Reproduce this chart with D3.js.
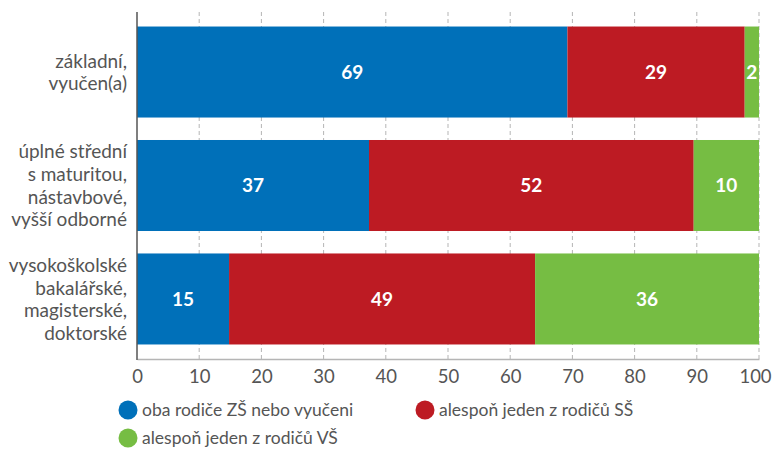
<!DOCTYPE html>
<html><head><meta charset="utf-8">
<script src="https://cdn.jsdelivr.net/npm/d3@7"></script>
<style>
body{margin:0;background:#fff;}
svg text{font-family:Lato,"Open Sans",sans-serif;}
</style></head>
<body><svg id="c" width="772" height="450"></svg>
<script>
const categories = [
  ["základní,", "vyučen(a)"],
  ["úplné střední", "s maturitou,", "nástavbové,", "vyšší odborné"],
  ["vysokoškolské", "bakalářské,", "magisterské,", "doktorské"]
];
const seriesNames = ["oba rodiče ZŠ nebo vyučeni", "alespoň jeden z rodičů SŠ", "alespoň jeden z rodičů VŠ"];
const zsValues = [69.2, 37.3, 14.8];
const ssValues = [28.5, 52.2, 49.2];
const vsValues = [2.3, 10.5, 36.0];
const valueLabels = [[69, 29, 2], [37, 52, 10], [15, 49, 36]];
const xTicks = [0, 10, 20, 30, 40, 50, 60, 70, 80, 90, 100];
const colors = ["#0070b9", "#bd1b23", "#76bd43"];

const svg = d3.select("#c");
const x = d3.scaleLinear().domain([0, 100]).range([137, 759]);
const y = d3.scaleBand().domain(d3.range(categories.length)).range([12, 359]).paddingInner(0.198).paddingOuter(0.128);

// gridlines
svg.append("g").selectAll("line").data(xTicks.slice(1)).join("line")
  .attr("x1", d => x(d)).attr("x2", d => x(d)).attr("y1", 12).attr("y2", 359)
  .attr("stroke", "#b5b5b5").attr("stroke-width", 1).attr("stroke-dasharray", "4,3");

const rows = categories.map((c, i) => ({i, vals: [zsValues[i], ssValues[i], vsValues[i]]}));
const stackData = rows.map(r => { const o = {i: r.i}; seriesNames.forEach((s, k) => o[s] = r.vals[k]); return o; });
const stacked = d3.stack().keys(seriesNames)(stackData);

const g = svg.append("g");
stacked.forEach((layer, k) => {
  g.append("g").selectAll("rect").data(layer).join("rect")
    .attr("x", d => x(d[0])).attr("width", d => x(d[1]) - x(d[0]))
    .attr("y", (d, i) => y(i)).attr("height", y.bandwidth())
    .attr("fill", colors[k]);
  g.append("g").selectAll("text").data(layer).join("text")
    .attr("x", d => (x(d[0]) + x(d[1])) / 2)
    .attr("y", (d, i) => y(i) + y.bandwidth() / 2)
    .attr("dy", "0.36em").attr("text-anchor", "middle")
    .attr("fill", "#fff").attr("font-weight", "bold").attr("font-size", 19)
    .text((d, i) => valueLabels[i][k]);
});

// x axis
const xAxis = svg.append("g").attr("transform", "translate(0,359)")
  .call(d3.axisBottom(x).tickValues(xTicks).tickSize(0).tickPadding(11));
xAxis.select(".domain").attr("stroke", "#b5b5b5").attr("stroke-width", 1.5);
xAxis.selectAll("text").attr("font-size", 18.5).attr("fill", "#555")
  .style("font-family", "Lato, 'Open Sans', sans-serif")
  .attr("dx", d => d === 100 ? -4 : 0);

// left axis line
svg.append("line").attr("x1", 137).attr("x2", 137).attr("y1", 12).attr("y2", 360)
  .attr("stroke", "#555").attr("stroke-width", 1.5);

// category labels
const lh = 22.6;
svg.append("g").selectAll("text").data(categories).join("text")
  .attr("text-anchor", "end").attr("font-size", 19).attr("fill", "#555")
  .each(function(lines, i) {
    const cy = y(i) + y.bandwidth() / 2;
    const t = d3.select(this);
    lines.forEach((ln, j) => {
      t.append("tspan").attr("x", 127)
        .attr("y", cy + (j - (lines.length - 1) / 2) * lh)
        .attr("dy", "0.36em").text(ln);
    });
  });

// legend
const legendPos = [[128, 410], [425, 410], [128, 438]];
const lg = svg.append("g").selectAll("g").data(seriesNames).join("g")
  .attr("transform", (d, i) => `translate(${legendPos[i][0]},${legendPos[i][1]})`);
lg.append("circle").attr("r", 9.5).attr("fill", (d, i) => colors[i]);
lg.append("text").attr("x", 14).attr("dy", "0.36em").attr("font-size", 17.5).attr("fill", "#555").text(d => d);
</script></body></html>
